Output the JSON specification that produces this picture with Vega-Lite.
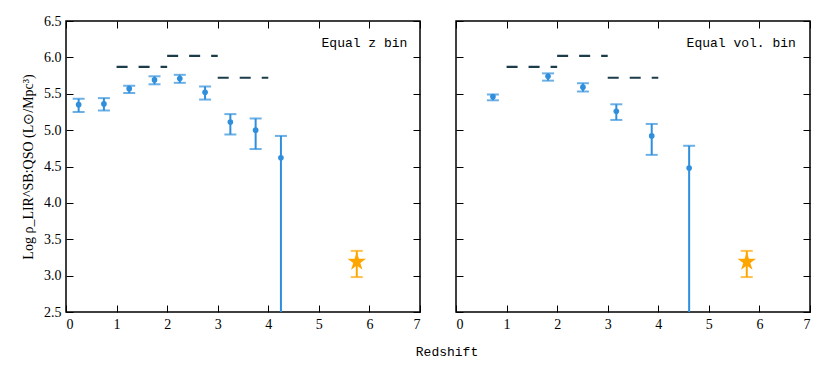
{
  "$schema": "https://vega.github.io/schema/vega-lite/v6.json",
  "background": "white",
  "padding": {"left": 20, "top": 13, "right": 5, "bottom": 5},
  "datasets": {
    "dash": [
      {"z1": 1, "z2": 2, "v": 5.87},
      {"z1": 2, "z2": 3, "v": 6.02},
      {"z1": 3, "z2": 4, "v": 5.72}
    ],
    "zbin": [
      {"z": 0.25, "v": 5.35, "lo": 5.25, "hi": 5.43},
      {"z": 0.75, "v": 5.36, "lo": 5.27, "hi": 5.44},
      {"z": 1.25, "v": 5.57, "lo": 5.51, "hi": 5.61},
      {"z": 1.75, "v": 5.69, "lo": 5.63, "hi": 5.74},
      {"z": 2.25, "v": 5.71, "lo": 5.65, "hi": 5.76},
      {"z": 2.75, "v": 5.52, "lo": 5.42, "hi": 5.6},
      {"z": 3.25, "v": 5.11, "lo": 4.94, "hi": 5.22},
      {"z": 3.75, "v": 5.0, "lo": 4.74, "hi": 5.16},
      {"z": 4.25, "v": 4.62, "lo": 2.0, "hi": 4.92}
    ],
    "volbin": [
      {"z": 0.73, "v": 5.46, "lo": 5.41, "hi": 5.49},
      {"z": 1.82, "v": 5.74, "lo": 5.68, "hi": 5.78},
      {"z": 2.51, "v": 5.59, "lo": 5.53, "hi": 5.645},
      {"z": 3.17, "v": 5.26, "lo": 5.14, "hi": 5.355},
      {"z": 3.87, "v": 4.92, "lo": 4.66, "hi": 5.085},
      {"z": 4.61, "v": 4.48, "lo": 2.0, "hi": 4.785}
    ],
    "star": [
      {"z": 5.75, "v": 3.19, "lo": 2.98, "hi": 3.34}
    ],
    "lab1": [{"z": 6.75, "v": 6.2, "label": "Equal z bin"}],
    "lab2": [{"z": 6.72, "v": 6.2, "label": "Equal vol. bin"}]
  },
  "title": {
    "text": "Redshift",
    "orient": "bottom",
    "anchor": "middle",
    "font": "Liberation Mono",
    "fontSize": 13,
    "fontWeight": "normal",
    "color": "#000",
    "offset": 14,
    "dx": 31
  },
  "spacing": 32,
  "hconcat": [
    {
      "width": 354,
      "height": 291,
      "resolve": {"axis": {"x": "independent", "y": "independent"}},
      "layer": [
        {
          "data": {"name": "dash"},
          "mark": {"type": "rule", "strokeDash": [11, 11], "strokeWidth": 2.2, "color": "#1c3c4a"},
          "encoding": {
            "x": {"field": "z1", "type": "quantitative", "scale": {"domain": [0, 7]}, "axis": {"orient": "bottom", "values": [0,1,2,3,4,5,6,7], "title": null}},
            "x2": {"field": "z2"},
            "y": {"field": "v", "type": "quantitative", "scale": {"domain": [2.5, 6.5]}, "axis": {"orient": "left", "values": [2.5,3,3.5,4,4.5,5,5.5,6,6.5], "format": ".1f", "title": "Log ρ_LIR^SB:QSO (L⊙/Mpc³)"}}
          }
        },
        {
          "data": {"name": "zbin"},
          "mark": {"type": "rule", "color": "#2f8fdc", "strokeWidth": 2, "clip": true},
          "encoding": {
            "x": {"field": "z", "type": "quantitative", "scale": {"domain": [0, 7]}, "axis": {"orient": "top", "values": [0,1,2,3,4,5,6,7], "labels": false, "title": null}},
            "y": {"field": "lo", "type": "quantitative", "scale": {"domain": [2.5, 6.5]}, "axis": {"orient": "right", "values": [2.5,3,3.5,4,4.5,5,5.5,6,6.5], "labels": false, "title": null}},
            "y2": {"field": "hi"}
          }
        },
        {
          "data": {"name": "zbin"},
          "mark": {"type": "tick", "orient": "horizontal", "color": "#2f8fdc", "size": 12, "thickness": 2, "clip": true},
          "encoding": {
            "x": {"field": "z", "type": "quantitative", "scale": {"domain": [0, 7]}, "axis": null},
            "y": {"field": "hi", "type": "quantitative", "scale": {"domain": [2.5, 6.5]}, "axis": null}
          }
        },
        {
          "data": {"name": "zbin"},
          "mark": {"type": "tick", "orient": "horizontal", "color": "#2f8fdc", "size": 12, "thickness": 2, "clip": true},
          "encoding": {
            "x": {"field": "z", "type": "quantitative", "scale": {"domain": [0, 7]}, "axis": null},
            "y": {"field": "lo", "type": "quantitative", "scale": {"domain": [2.5, 6.5]}, "axis": null}
          }
        },
        {
          "data": {"name": "zbin"},
          "mark": {"type": "point", "filled": true, "color": "#2f8fdc", "size": 32, "opacity": 1},
          "encoding": {
            "x": {"field": "z", "type": "quantitative", "scale": {"domain": [0, 7]}, "axis": null},
            "y": {"field": "v", "type": "quantitative", "scale": {"domain": [2.5, 6.5]}, "axis": null}
          }
        },
        {
          "data": {"name": "star"},
          "mark": {"type": "rule", "color": "#ffa500", "strokeWidth": 2},
          "encoding": {
            "x": {"field": "z", "type": "quantitative", "scale": {"domain": [0, 7]}, "axis": null},
            "y": {"field": "lo", "type": "quantitative", "scale": {"domain": [2.5, 6.5]}, "axis": null},
            "y2": {"field": "hi"}
          }
        },
        {
          "data": {"name": "star"},
          "mark": {"type": "tick", "orient": "horizontal", "color": "#ffa500", "size": 12, "thickness": 2},
          "encoding": {
            "x": {"field": "z", "type": "quantitative", "scale": {"domain": [0, 7]}, "axis": null},
            "y": {"field": "hi", "type": "quantitative", "scale": {"domain": [2.5, 6.5]}, "axis": null}
          }
        },
        {
          "data": {"name": "star"},
          "mark": {"type": "tick", "orient": "horizontal", "color": "#ffa500", "size": 12, "thickness": 2},
          "encoding": {
            "x": {"field": "z", "type": "quantitative", "scale": {"domain": [0, 7]}, "axis": null},
            "y": {"field": "lo", "type": "quantitative", "scale": {"domain": [2.5, 6.5]}, "axis": null}
          }
        },
        {
          "data": {"name": "star"},
          "mark": {"type": "point", "shape": "M0,-1L0.2245,-0.309L0.951,-0.309L0.363,0.118L0.588,0.809L0,0.382L-0.588,0.809L-0.363,0.118L-0.951,-0.309L-0.2245,-0.309Z", "filled": true, "color": "#ffa500", "size": 380, "opacity": 1},
          "encoding": {
            "x": {"field": "z", "type": "quantitative", "scale": {"domain": [0, 7]}, "axis": null},
            "y": {"field": "v", "type": "quantitative", "scale": {"domain": [2.5, 6.5]}, "axis": null}
          }
        },
        {
          "data": {"name": "lab1"},
          "mark": {"type": "text", "align": "right", "baseline": "middle", "font": "Liberation Mono", "fontSize": 13, "color": "#000"},
          "encoding": {
            "x": {"field": "z", "type": "quantitative", "scale": {"domain": [0, 7]}, "axis": null},
            "y": {"field": "v", "type": "quantitative", "scale": {"domain": [2.5, 6.5]}, "axis": null},
            "text": {"field": "label"}
          }
        }
      ]
    },
    {
      "width": 354,
      "height": 291,
      "resolve": {"axis": {"x": "independent", "y": "independent"}},
      "layer": [
        {
          "data": {"name": "dash"},
          "mark": {"type": "rule", "strokeDash": [11, 11], "strokeWidth": 2.2, "color": "#1c3c4a"},
          "encoding": {
            "x": {"field": "z1", "type": "quantitative", "scale": {"domain": [0, 7]}, "axis": {"orient": "bottom", "values": [0,1,2,3,4,5,6,7], "title": null}},
            "x2": {"field": "z2"},
            "y": {"field": "v", "type": "quantitative", "scale": {"domain": [2.5, 6.5]}, "axis": {"orient": "left", "values": [2.5,3,3.5,4,4.5,5,5.5,6,6.5], "labels": false, "title": null}}
          }
        },
        {
          "data": {"name": "volbin"},
          "mark": {"type": "rule", "color": "#2f8fdc", "strokeWidth": 2, "clip": true},
          "encoding": {
            "x": {"field": "z", "type": "quantitative", "scale": {"domain": [0, 7]}, "axis": {"orient": "top", "values": [0,1,2,3,4,5,6,7], "labels": false, "title": null}},
            "y": {"field": "lo", "type": "quantitative", "scale": {"domain": [2.5, 6.5]}, "axis": {"orient": "right", "values": [2.5,3,3.5,4,4.5,5,5.5,6,6.5], "labels": false, "title": null}},
            "y2": {"field": "hi"}
          }
        },
        {
          "data": {"name": "volbin"},
          "mark": {"type": "tick", "orient": "horizontal", "color": "#2f8fdc", "size": 12, "thickness": 2, "clip": true},
          "encoding": {
            "x": {"field": "z", "type": "quantitative", "scale": {"domain": [0, 7]}, "axis": null},
            "y": {"field": "hi", "type": "quantitative", "scale": {"domain": [2.5, 6.5]}, "axis": null}
          }
        },
        {
          "data": {"name": "volbin"},
          "mark": {"type": "tick", "orient": "horizontal", "color": "#2f8fdc", "size": 12, "thickness": 2, "clip": true},
          "encoding": {
            "x": {"field": "z", "type": "quantitative", "scale": {"domain": [0, 7]}, "axis": null},
            "y": {"field": "lo", "type": "quantitative", "scale": {"domain": [2.5, 6.5]}, "axis": null}
          }
        },
        {
          "data": {"name": "volbin"},
          "mark": {"type": "point", "filled": true, "color": "#2f8fdc", "size": 32, "opacity": 1},
          "encoding": {
            "x": {"field": "z", "type": "quantitative", "scale": {"domain": [0, 7]}, "axis": null},
            "y": {"field": "v", "type": "quantitative", "scale": {"domain": [2.5, 6.5]}, "axis": null}
          }
        },
        {
          "data": {"name": "star"},
          "mark": {"type": "rule", "color": "#ffa500", "strokeWidth": 2},
          "encoding": {
            "x": {"field": "z", "type": "quantitative", "scale": {"domain": [0, 7]}, "axis": null},
            "y": {"field": "lo", "type": "quantitative", "scale": {"domain": [2.5, 6.5]}, "axis": null},
            "y2": {"field": "hi"}
          }
        },
        {
          "data": {"name": "star"},
          "mark": {"type": "tick", "orient": "horizontal", "color": "#ffa500", "size": 12, "thickness": 2},
          "encoding": {
            "x": {"field": "z", "type": "quantitative", "scale": {"domain": [0, 7]}, "axis": null},
            "y": {"field": "hi", "type": "quantitative", "scale": {"domain": [2.5, 6.5]}, "axis": null}
          }
        },
        {
          "data": {"name": "star"},
          "mark": {"type": "tick", "orient": "horizontal", "color": "#ffa500", "size": 12, "thickness": 2},
          "encoding": {
            "x": {"field": "z", "type": "quantitative", "scale": {"domain": [0, 7]}, "axis": null},
            "y": {"field": "lo", "type": "quantitative", "scale": {"domain": [2.5, 6.5]}, "axis": null}
          }
        },
        {
          "data": {"name": "star"},
          "mark": {"type": "point", "shape": "M0,-1L0.2245,-0.309L0.951,-0.309L0.363,0.118L0.588,0.809L0,0.382L-0.588,0.809L-0.363,0.118L-0.951,-0.309L-0.2245,-0.309Z", "filled": true, "color": "#ffa500", "size": 380, "opacity": 1},
          "encoding": {
            "x": {"field": "z", "type": "quantitative", "scale": {"domain": [0, 7]}, "axis": null},
            "y": {"field": "v", "type": "quantitative", "scale": {"domain": [2.5, 6.5]}, "axis": null}
          }
        },
        {
          "data": {"name": "lab2"},
          "mark": {"type": "text", "align": "right", "baseline": "middle", "font": "Liberation Mono", "fontSize": 13, "color": "#000"},
          "encoding": {
            "x": {"field": "z", "type": "quantitative", "scale": {"domain": [0, 7]}, "axis": null},
            "y": {"field": "v", "type": "quantitative", "scale": {"domain": [2.5, 6.5]}, "axis": null},
            "text": {"field": "label"}
          }
        }
      ]
    }
  ],
  "config": {
    "view": {"stroke": "#000", "strokeWidth": 1.5},
    "axis": {
      "domain": false,
      "grid": false,
      "tickSize": 7,
      "offset": -7,
      "tickColor": "#000",
      "tickWidth": 1,
      "labelFont": "Liberation Serif",
      "labelFontSize": 14,
      "labelColor": "#000",
      "labelPadding": 5,
      "titleFont": "Liberation Serif",
      "titleFontSize": 14,
      "titleFontWeight": "normal",
      "titleColor": "#000",
      "titlePadding": 8
    }
  }
}
